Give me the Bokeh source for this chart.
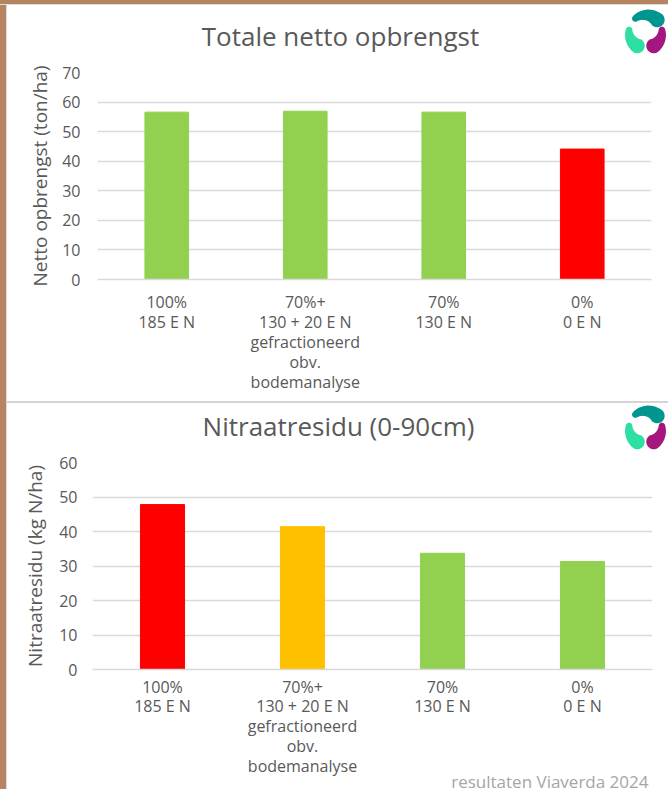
import numpy as np
from bokeh.plotting import figure
from bokeh.models import Range1d, FactorRange, Div, ColumnDataSource, FixedTicker, Title
from bokeh.layouts import column, row
from bokeh.core.properties import value
from bokeh.embed import file_html
from bokeh.resources import INLINE

# ---------------- data ----------------
categories = [
    "100%\n185 E N",
    "70%+\n130 + 20 E N\ngefractioneerd\nobv.\nbodemanalyse",
    "70%\n130 E N",
    "0%\n0 E N",
]
opbrengst = [56.6, 56.9, 56.6, 44.1]
opbrengst_colors = ["#92D050", "#92D050", "#92D050", "#FF0000"]
nitraat = [47.8, 41.4, 33.7, 31.3]
nitraat_colors = ["#FF0000", "#FFC000", "#92D050", "#92D050"]
y1_ticks = [0, 10, 20, 30, 40, 50, 60, 70]
y2_ticks = [0, 10, 20, 30, 40, 50, 60]

title1 = "Totale netto opbrengst"
title2 = "Nitraatresidu (0-90cm)"
ylabel1 = "Netto opbrengst (ton/ha)"
ylabel2 = "Nitraatresidu (kg N/ha)"
footnote = "resultaten Viaverda 2024"

TXT = "#595959"
GRID = "#D9D9D9"
BROWN = "#B68460"
FONT = "Open Sans"
W = 661          # content width (page x 7..668)
X0 = 7


def no_align(p):
    if "frame_align" in p.properties():
        p.frame_align = False
    return p


def blob(cx, cy, a_head, a_tail, rm=16.5, rh=7.5, rt=3.3, n=40):
    ang = np.radians(np.linspace(a_head, a_tail, n))
    h = np.linspace(rh, rt, n)
    ox = (rm + h) * np.cos(ang)
    oy = (rm + h) * np.sin(ang)
    ix = (rm - h) * np.cos(ang)
    iy = (rm - h) * np.sin(ang)
    sgn = 1.0 if a_tail > a_head else -1.0

    def cap(a, hh, b0, b1):
        ux, uy = np.cos(a), np.sin(a)
        tx, ty = -sgn * np.sin(a), sgn * np.cos(a)
        ex, ey = rm * ux, rm * uy
        b = np.linspace(b0, b1, 16)
        return (ex + hh * (np.cos(b) * ux + np.sin(b) * tx),
                ey + hh * (np.cos(b) * uy + np.sin(b) * ty))

    tcx, tcy = cap(ang[-1], rt, 0, np.pi)
    hcx, hcy = cap(ang[0], rh, np.pi, 2 * np.pi)
    xs = np.concatenate([ox, tcx, ix[::-1], hcx])
    ys = np.concatenate([oy, tcy, iy[::-1], hcy])
    return list(cx + xs), list(cy - ys)   # page coords (y down)


def header(y_top, y_bot, title, tx, ty, logo_c):
    p = figure(width=W, height=y_bot - y_top, x_range=Range1d(X0, X0 + W),
               y_range=Range1d(y_bot, y_top), output_backend="svg",
               toolbar_location=None, x_axis_location=None, y_axis_location=None,
               min_border=0, min_border_left=0, min_border_right=0,
               min_border_top=0, min_border_bottom=0)
    no_align(p)
    p.grid.visible = False
    p.outline_line_color = None
    p.background_fill_color = "white"
    p.border_fill_color = "white"
    p.text(x=[tx], y=[ty], text=[title], text_align="center", text_baseline="middle",
           text_font=value(FONT), text_font_size="26px", text_color=TXT)
    xs, ys, cols = [], [], []
    for a_head, a_tail, col in [(45, 128, "#00968F"),
                                (240, 175, "#2EDFA3"),
                                (300, 365, "#A3177E")]:
        bx, by = blob(logo_c[0], logo_c[1], a_head, a_tail)
        xs.append(bx); ys.append(by); cols.append(col)
    p.patches(xs=xs, ys=ys, fill_color=cols, line_color=None)
    return p


def chart(values, colors, ticks, ymax, height, ml, mr, mt, mb, ylabel,
          lh, sx, sy, sl):
    src = ColumnDataSource(dict(cat=categories, val=values, col=colors))
    p = figure(width=W, height=height, x_range=FactorRange(*categories),
               y_range=Range1d(0, ymax), output_backend="svg", toolbar_location=None,
               min_border_left=ml, min_border_right=mr, min_border_top=mt,
               min_border_bottom=mb)
    no_align(p)
    p.vbar(x="cat", top="val", width=0.315, color="col", source=src)
    p.outline_line_color = None
    p.background_fill_color = "white"
    p.border_fill_color = "white"
    p.xgrid.grid_line_color = None
    p.ygrid.grid_line_color = GRID
    p.ygrid.grid_line_width = 1.5
    p.yaxis.ticker = FixedTicker(ticks=ticks)
    for ax in (p.xaxis[0], p.yaxis[0]):
        ax.major_tick_line_color = None
        ax.minor_tick_line_color = None
        ax.major_tick_out = 0
        ax.major_tick_in = 0
        ax.major_label_text_font = FONT
        ax.major_label_text_color = TXT
        ax.major_label_text_font_size = "16px"
    p.yaxis.axis_line_color = None
    p.xaxis.axis_line_color = GRID
    p.xaxis.axis_line_width = 1.5
    p.xaxis.major_label_text_line_height = lh
    p.xaxis.major_label_standoff = sx
    p.yaxis.major_label_standoff = sy
    p.yaxis.axis_label = ylabel
    p.yaxis.axis_label_text_font = FONT
    p.yaxis.axis_label_text_font_style = "normal"
    p.yaxis.axis_label_text_color = TXT
    p.yaxis.axis_label_text_font_size = "19px"
    p.yaxis.axis_label_standoff = sl
    return p


# page y: header1 5..60, chart1 60..401, sep 401..403,
#         header2 403..450, chart2 450..789
h1 = header(5, 60, title1, 340, 35, (645, 31))
c1 = chart(opbrengst, opbrengst_colors, y1_ticks, 70, 341,
           97 - X0, X0 + W - 651, 72 - 60, 401 - 279, ylabel1, 0.92, 11, 17, 6)
sep = Div(width=W, height=2, margin=0, styles={"background-color": "#D4D4D4"})
h2 = header(403, 450, title2, 338, 425, (645, 427))
c2 = chart(nitraat, nitraat_colors, y2_ticks, 60, 339,
           92 - X0, X0 + W - 652, 462 - 450, 789 - 669, ylabel2, 0.9, 6, 15, 8)

# footnote: right-aligned title below the bottom chart, pulled up beside the labels
foot = Title(text=footnote, align="right", offset=4,
             text_font=FONT, text_font_style="normal", text_font_size="17px",
             text_color="#A6A6A6")
if "standoff" in foot.properties():
    foot.standoff = -24
c2.add_layout(foot, "below")

top_band = Div(width=668, height=5, margin=0,
               styles={"background": f"linear-gradient(to bottom, {BROWN} 0px, {BROWN} 4px, #DDDDDD 4px, #DDDDDD 5px)"})
left_band = Div(width=7, height=784, margin=0,
                styles={"background": f"linear-gradient(to right, {BROWN} 0px, {BROWN} 6px, #DDDDDD 6px, #DDDDDD 7px)"})

content = column(h1, c1, sep, h2, c2, spacing=0)
layout = column(top_band, row(left_band, content, spacing=0), spacing=0)
open("out.html", "w").write(file_html(layout, INLINE))
